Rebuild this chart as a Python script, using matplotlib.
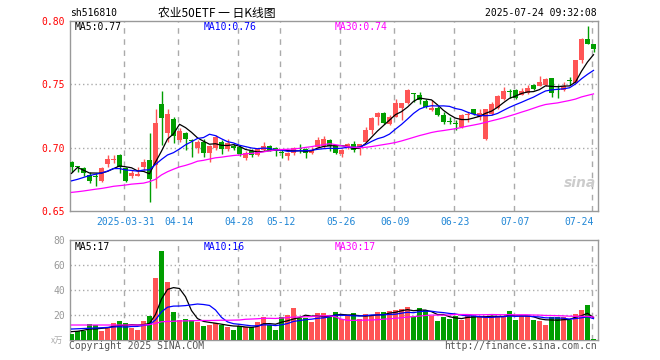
import numpy as np
import pandas as pd
import matplotlib
matplotlib.use("Agg")
import matplotlib.pyplot as plt

# daily candles, 2025-03-18 .. 2025-07-24 (88 trading days)
open_ = [0.6889, 0.6848, 0.6837, 0.6783, 0.6775, 0.6738, 0.6873, 0.6905, 0.6942, 0.6837,
         0.6775, 0.6780, 0.6844, 0.6902, 0.6862, 0.7344, 0.7118, 0.7226, 0.7060, 0.7113,
         0.7060, 0.7000, 0.7047, 0.6960, 0.6995, 0.7047, 0.6987, 0.7013, 0.7002, 0.6915,
         0.6976, 0.6941, 0.6981, 0.7013, 0.6994, 0.6965, 0.6934, 0.6955, 0.6995, 0.6987,
         0.6955, 0.7002, 0.7015, 0.7060, 0.7013, 0.6949, 0.6995, 0.7030, 0.6995, 0.7047,
         0.7139, 0.7244, 0.7276, 0.7187, 0.7244, 0.7316, 0.7355, 0.7425, 0.7416, 0.7370,
         0.7297, 0.7315, 0.7258, 0.7207, 0.7195, 0.7165, 0.7255, 0.7303, 0.7244, 0.7066,
         0.7265, 0.7311, 0.7382, 0.7445, 0.7455, 0.7416, 0.7429, 0.7495, 0.7487, 0.7494,
         0.7547, 0.7457, 0.7455, 0.7527, 0.7513, 0.7692, 0.7858, 0.7818]
high = [0.6895, 0.6855, 0.6847, 0.6810, 0.6800, 0.6850, 0.6942, 0.6940, 0.6950, 0.6850,
        0.6820, 0.6845, 0.6907, 0.7115, 0.7305, 0.7447, 0.7302, 0.7240, 0.7153, 0.7126,
        0.7068, 0.7060, 0.7066, 0.7020, 0.7100, 0.7060, 0.7066, 0.7030, 0.7013, 0.6970,
        0.6990, 0.6997, 0.7047, 0.7020, 0.7005, 0.6987, 0.6968, 0.7007, 0.7030, 0.6997,
        0.7007, 0.7086, 0.7090, 0.7068, 0.7020, 0.6990, 0.7040, 0.7052, 0.7031, 0.7165,
        0.7244, 0.7284, 0.7280, 0.7258, 0.7382, 0.7352, 0.7460, 0.7428, 0.7442, 0.7384,
        0.7376, 0.7330, 0.7279, 0.7244, 0.7218, 0.7265, 0.7280, 0.7305, 0.7303, 0.7305,
        0.7360, 0.7416, 0.7480, 0.7460, 0.7460, 0.7468, 0.7495, 0.7502, 0.7566, 0.7550,
        0.7550, 0.7495, 0.7520, 0.7555, 0.7692, 0.7862, 0.7960, 0.7820]
low = [0.6810, 0.6810, 0.6780, 0.6720, 0.6700, 0.6730, 0.6847, 0.6880, 0.6800, 0.6730,
       0.6757, 0.6780, 0.6822, 0.6573, 0.6680, 0.7020, 0.7047, 0.7040, 0.7047, 0.6980,
       0.6928, 0.6955, 0.6928, 0.6890, 0.6980, 0.6950, 0.6973, 0.6980, 0.6933, 0.6900,
       0.6928, 0.6933, 0.6973, 0.6973, 0.6933, 0.6915, 0.6900, 0.6941, 0.6960, 0.6915,
       0.6949, 0.7000, 0.7000, 0.6973, 0.6947, 0.6923, 0.6990, 0.6968, 0.6942, 0.7045,
       0.7107, 0.7178, 0.7190, 0.7180, 0.7240, 0.7218, 0.7345, 0.7363, 0.7342, 0.7313,
       0.7292, 0.7252, 0.7184, 0.7187, 0.7140, 0.7159, 0.7200, 0.7257, 0.7218, 0.7060,
       0.7261, 0.7305, 0.7376, 0.7390, 0.7384, 0.7412, 0.7423, 0.7455, 0.7483, 0.7490,
       0.7398, 0.7390, 0.7451, 0.7495, 0.7510, 0.7666, 0.7815, 0.7757]
close = [0.6844, 0.6844, 0.6802, 0.6738, 0.6770, 0.6841, 0.6913, 0.6910, 0.6844, 0.6738,
         0.6802, 0.6790, 0.6889, 0.6752, 0.7197, 0.7236, 0.7265, 0.7094, 0.7131, 0.7066,
         0.7050, 0.7047, 0.6960, 0.7013, 0.7086, 0.6987, 0.7039, 0.6994, 0.6949, 0.6960,
         0.6941, 0.6987, 0.7013, 0.6981, 0.6976, 0.6960, 0.6955, 0.7000, 0.6987, 0.6955,
         0.6980, 0.7060, 0.7065, 0.7013, 0.6960, 0.6981, 0.7030, 0.6981, 0.7030, 0.7139,
         0.7232, 0.7276, 0.7197, 0.7244, 0.7355, 0.7350, 0.7455, 0.7423, 0.7376, 0.7318,
         0.7315, 0.7258, 0.7205, 0.7205, 0.7184, 0.7258, 0.7258, 0.7265, 0.7271, 0.7303,
         0.7345, 0.7408, 0.7450, 0.7442, 0.7390, 0.7450, 0.7468, 0.7463, 0.7521, 0.7539,
         0.7429, 0.7455, 0.7487, 0.7526, 0.7692, 0.7858, 0.7818, 0.7776]
# volume, x10k
volume = [5.0, 7.4, 7.6, 13.0, 12.2, 7.5, 9.5, 13.8, 15.4, 13.8,
          9.8, 8.2, 15.4, 19.7, 49.8, 71.4, 46.6, 22.6, 16.2, 17.0,
          16.2, 14.6, 11.4, 12.2, 13.8, 12.2, 10.6, 8.2, 11.4, 10.6,
          10.6, 14.6, 18.6, 12.2, 8.2, 18.6, 20.2, 25.8, 17.8, 17.8,
          14.6, 21.8, 21.8, 20.2, 22.4, 17.0, 19.7, 21.8, 17.0, 21.2,
          19.0, 22.4, 22.4, 23.5, 24.3, 25.2, 26.8, 18.2, 25.9, 24.3,
          19.0, 15.4, 18.2, 17.0, 19.7, 16.2, 20.2, 19.7, 18.4, 19.0,
          19.0, 19.0, 19.7, 23.5, 16.2, 19.0, 19.0, 16.2, 15.4, 12.2,
          18.2, 18.2, 18.2, 16.2, 21.2, 24.3, 27.8, 1.0]

# moving-average values before the window has enough days
ma5_head = [0.6797, 0.6844, 0.6822, 0.6800]
ma10_head = [0.6738, 0.6750, 0.6765, 0.6780, 0.6790, 0.6800, 0.6815, 0.6835, 0.6835]
ma30_head = [0.6647, 0.6652, 0.6658, 0.6665, 0.6672, 0.6678, 0.6686, 0.6695, 0.6700, 0.6705,
             0.6712, 0.6716, 0.6720, 0.6732, 0.6750, 0.6785, 0.6810, 0.6830, 0.6848, 0.6860,
             0.6875, 0.6893, 0.6900, 0.6910, 0.6920, 0.6925, 0.6932, 0.6938, 0.6942]
vma5_head = [6.9, 7.2, 8.0, 9.0]
vma10_head = [9.0, 9.2, 9.4, 9.6, 9.8, 10.0, 10.3, 10.6, 10.9]
vma30_head = [12.2, 12.2, 12.2, 12.2, 12.2, 12.2, 12.2, 12.2, 12.2, 12.2,
              12.2, 12.2, 12.2, 12.5, 13.5, 14.8, 15.0, 15.2, 15.4, 15.5,
              15.6, 15.7, 15.8, 15.8, 15.9, 16.0, 16.0, 16.1, 16.2]

tick_idx = [9, 18, 28, 35, 45, 54, 64, 74, 87]
tick_lbl = ['2025-03-31', '04-14', '04-28', '05-12', '05-26', '06-09', '06-23', '07-07', '07-24']

RED = '#ff5555'
GREEN = '#009e00'
GREY = '#999999'
MONO = 'DejaVu Sans Mono'


def moving_avg(values, n, head):
    out = pd.Series(values).rolling(n).mean().to_numpy()
    out[:n - 1] = head
    return out


o = np.array(open_)
h = np.array(high)
l = np.array(low)
c = np.array(close)
v = np.array(volume)
x = np.arange(len(c))
up = c >= o
colors = np.where(up, RED, GREEN)

fig = plt.figure(figsize=(6.6, 3.6), dpi=100)
ax = fig.add_axes([70 / 660, 1 - 211 / 360, 528 / 660, 190 / 360])
axv = fig.add_axes([70 / 660, 1 - 340.3 / 360, 528 / 660, 100.3 / 360])

# candles
ax.vlines(x, l, h, colors=colors, linewidth=1, zorder=3)
body = np.maximum(np.abs(c - o), 0.0009)
ax.bar(x, body, bottom=np.minimum(o, c), width=0.75, color=colors, linewidth=0, zorder=4)

ma5 = moving_avg(c, 5, ma5_head)
ma10 = moving_avg(c, 10, ma10_head)
ma30 = moving_avg(c, 30, ma30_head)
ax.plot(x, ma5, color='black', lw=0.9, zorder=5)
ax.plot(x, ma10, color='#0000ff', lw=0.9, zorder=5)
ax.plot(x, ma30, color='#ff00ff', lw=0.9, zorder=5)

# volume
axv.bar(x, v, width=0.8, color=colors, linewidth=0, zorder=3)
axv.plot(x, moving_avg(v, 5, vma5_head), color='black', lw=0.9, zorder=5)
axv.plot(x, moving_avg(v, 10, vma10_head), color='#0000ff', lw=0.9, zorder=5)
axv.plot(x, moving_avg(v, 30, vma30_head), color='#ff00ff', lw=0.9, zorder=5)

for a in (ax, axv):
    a.set_xlim(-0.25, len(c) - 0.25)
    for s in a.spines.values():
        s.set_color(GREY)
        s.set_linewidth(1)
    for t in tick_idx:
        a.axvline(t - 0.25, color='#aaaaaa', lw=1, dashes=(4, 4), zorder=1)
    a.tick_params(length=0)

ax.set_ylim(0.65, 0.80)
ax.set_yticks([0.65, 0.70, 0.75, 0.80])
ax.set_yticklabels(['0.65', '0.70', '0.75', '0.80'], color='red', family=MONO, fontsize=7)
for yv in (0.70, 0.75):
    ax.axhline(yv, color='#aaaaaa', lw=1, dashes=(1, 2), zorder=1)
ax.set_xticks(tick_idx)
ax.set_xticklabels(tick_lbl, color='#1f86d6', family=MONO, fontsize=7)
ax.get_xticklabels()[-1].set_ha('right')
ax.tick_params(axis='x', pad=4)
ax.tick_params(axis='y', pad=4)

axv.set_ylim(0, 80)
axv.set_yticks([20, 40, 60, 80])
axv.set_yticklabels(['20', '40', '60', '80'], color=GREY, family=MONO, fontsize=7)
axv.set_xticks([])
for yv in (20, 40, 60):
    axv.axhline(yv, color='#aaaaaa', lw=1, dashes=(1, 2), zorder=1)

# header texts
fig.text(70 / 660, 1 - 13 / 360, 'sh516810', family=MONO, fontsize=7, va='center', ha='left')
fig.text(217 / 660, 1 - 13 / 360, '农业50ETF 一 日K线图', family=['Noto Sans CJK SC', 'DejaVu Sans'],
         fontsize=8.5, va='center', ha='center')
fig.text(597 / 660, 1 - 13 / 360, '2025-07-24 09:32:08', family=MONO, fontsize=7, va='center', ha='right')

fig.text(75 / 660, 1 - 27 / 360, f'MA5:{ma5[-1]:.2f}', family=MONO, fontsize=7, va='center')
fig.text(204 / 660, 1 - 27 / 360, f'MA10:{ma10[-1]:.2f}', family=MONO, fontsize=7, va='center', color='#0000ff')
fig.text(335 / 660, 1 - 27 / 360, f'MA30:{ma30[-1]:.2f}', family=MONO, fontsize=7, va='center', color='#ff00ff')

fig.text(75 / 660, 1 - 246.5 / 360, 'MA5:17', family=MONO, fontsize=7, va='center')
fig.text(204 / 660, 1 - 246.5 / 360, 'MA10:16', family=MONO, fontsize=7, va='center', color='#0000ff')
fig.text(335 / 660, 1 - 246.5 / 360, 'MA30:17', family=MONO, fontsize=7, va='center', color='#ff00ff')

fig.text(63 / 660, 1 - 340 / 360, 'x万', family=['Noto Sans CJK SC', 'DejaVu Sans'], fontsize=6,
         color='#aaaaaa', va='center', ha='right')
fig.text(69 / 660, 1 - 346 / 360, 'Copyright 2025 SINA.COM', family=MONO, fontsize=7, va='center',
         color='#555555')
fig.text(597 / 660, 1 - 346 / 360, 'http://finance.sina.com.cn', family=MONO, fontsize=7, va='center',
         ha='right', color='#555555')
fig.text(580 / 660, 1 - 183 / 360, 'sina', fontsize=10, style='italic', weight='bold',
         color='#cccccc', ha='center', va='center')

fig.savefig('out.png', dpi=100)
